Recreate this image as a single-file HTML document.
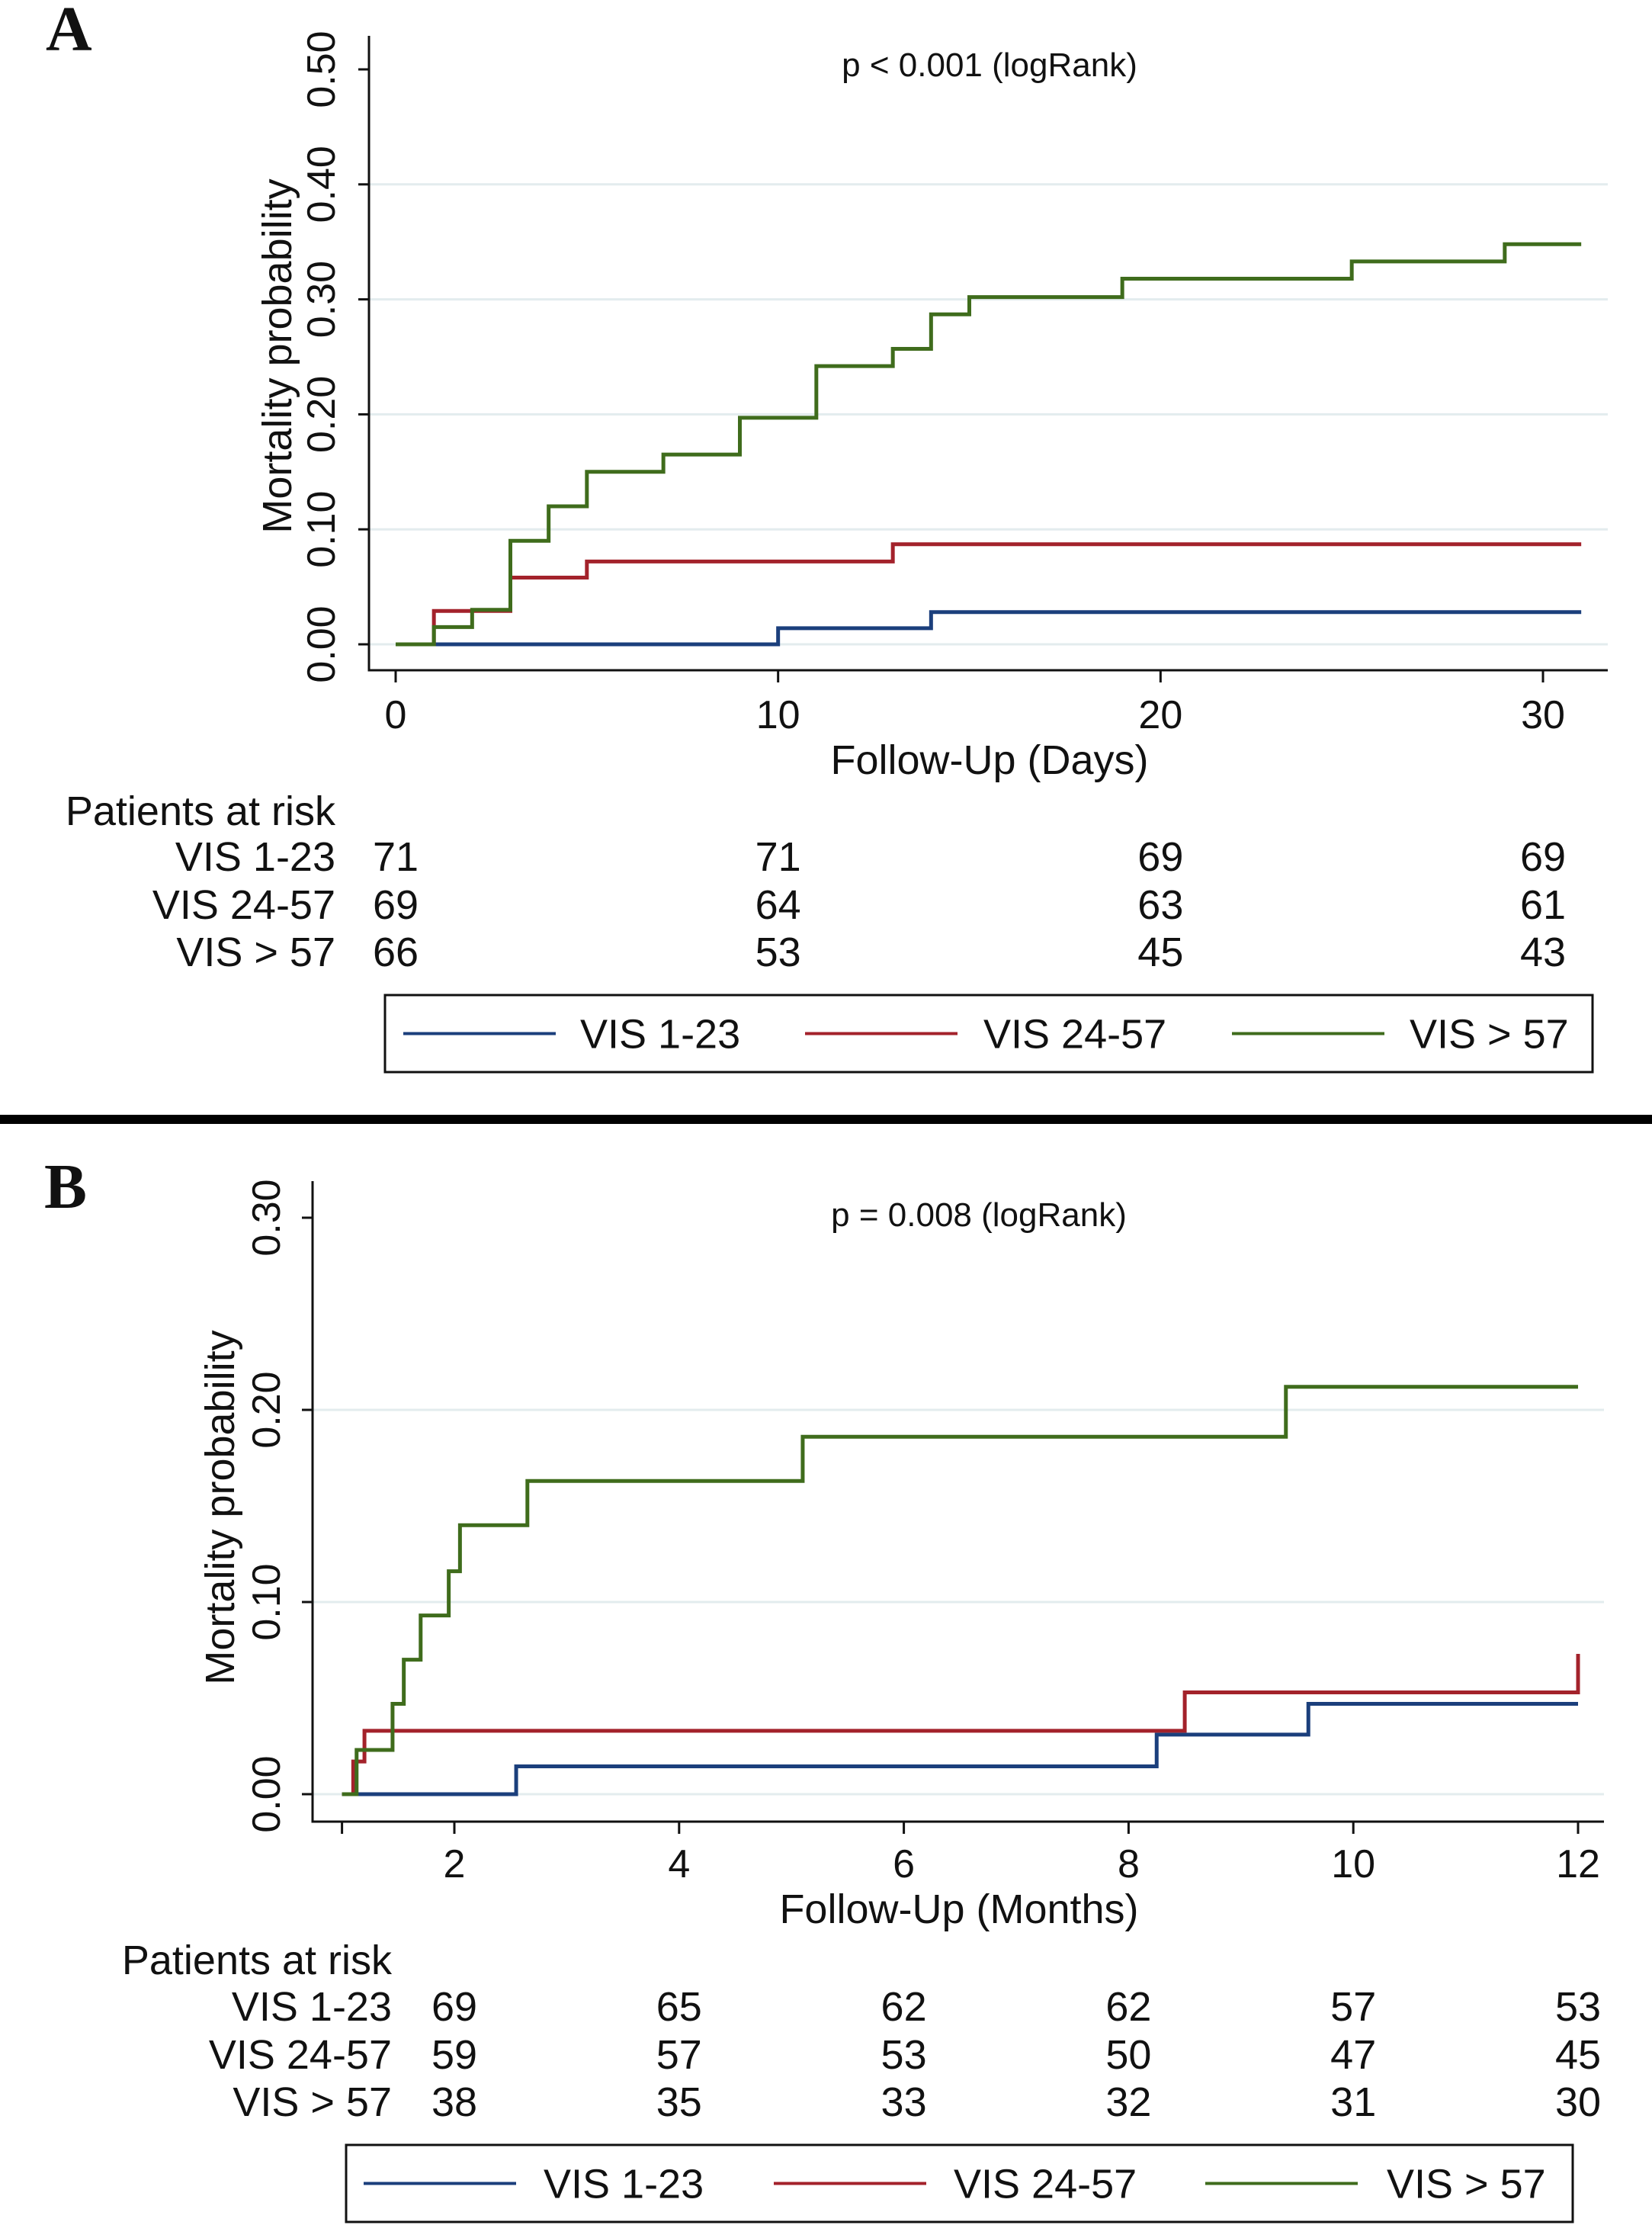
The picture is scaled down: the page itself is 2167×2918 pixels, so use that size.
<!DOCTYPE html>
<html><head><meta charset="utf-8"><style>
html,body{margin:0;padding:0;background:#fff}
svg{display:block}
text{font-family:"Liberation Sans",sans-serif;fill:#111}
</style></head><body>
<svg id="c" width="2167" height="2918" viewBox="0 0 2167 2918" xmlns="http://www.w3.org/2000/svg">
<rect x="0" y="0" width="2167" height="2918" fill="#fff"/>
<rect x="0" y="1462" width="2167" height="12" fill="#000"/>
</svg>
<script>
// Panel A data
const aDaysBlue=[0,10,14,31], aValBlue=[0,0.014,0.028,0.028];
const aDaysRed=[0,1,3,5,13,31], aValRed=[0,0.029,0.058,0.072,0.087,0.087];
const aDaysGreen=[0,1,2,3,4,5,7,9,11,13,14,15,19,25,29,31];
const aValGreen=[0,0.015,0.03,0.09,0.12,0.15,0.165,0.197,0.242,0.257,0.287,0.302,0.318,0.333,0.348,0.348];
const aXTicks=[0,10,20,30];
const aYTicks=[0,0.1,0.2,0.3,0.4,0.5];
const aRiskBlue=[71,71,69,69], aRiskRed=[69,64,63,61], aRiskGreen=[66,53,45,43];
// Panel B data
const bMonBlue=[1,2.55,8.25,9.6,12], bValBlue=[0,0.0145,0.031,0.047,0.047];
const bMonRed=[1,1.1,1.2,8.5,12,12], bValRed=[0,0.017,0.033,0.053,0.053,0.073];
const bMonGreen=[1,1.13,1.45,1.55,1.7,1.95,2.05,2.65,5.1,9.4,12];
const bValGreen=[0,0.023,0.047,0.07,0.093,0.116,0.14,0.163,0.186,0.212,0.212];
const bXTicks=[1,2,4,6,8,10,12];
const bXLabels=[2,4,6,8,10,12];
const bYTicks=[0,0.1,0.2,0.3];
const bRisk=[[69,65,62,62,57,53],[59,57,53,50,47,45],[38,35,33,32,31,30]];

const NS="http://www.w3.org/2000/svg";
const svg=document.getElementById('c');
function el(tag,attrs,parent,text){const e=document.createElementNS(NS,tag);for(const k in attrs)e.setAttribute(k,attrs[k]);if(text!==undefined)e.textContent=text;(parent||svg).appendChild(e);return e;}
const COL={blue:"#1b3f7c",red:"#a3222b",green:"#3f6c1c"};

function panel(P){
  const g=el('g',{});
  
  
  const X=v=>P.x0+(v-P.xa)*(P.x1-P.x0)/(P.xb-P.xa);
  const Y=v=>P.y0+(v-0)*(P.y1-P.y0)/(P.ymax);
  const top=P.yTicks[P.yTicks.length-1];
  P.yTicks.forEach(t=>{
    if(t<top){const l=el('line',{x1:P.axX,x2:P.right,y1:Y(t),y2:Y(t),stroke:"#e3ecee","stroke-width":3},g);
      }
  });
  P.yTicks.forEach(t=>{
    el('line',{x1:P.axX-14,x2:P.axX,y1:Y(t),y2:Y(t),stroke:"#111","stroke-width":3},g);
    const tx=el('text',{x:0,y:0,transform:`translate(${P.ylabX},${Y(t)}) rotate(-90)`,"text-anchor":"middle","font-size":52},g,t.toFixed(2));
    
  });
  const ax=el('path',{d:`M${P.axX},${P.axTop}V${P.axBot}H${P.right}`,fill:"none",stroke:"#111","stroke-width":3},g);
  
  P.xTicks.forEach(t=>{el('line',{x1:X(t),x2:X(t),y1:P.axBot,y2:P.axBot+16,stroke:"#111","stroke-width":3},g);});
  P.xLabels.forEach(t=>{
    const tx=el('text',{x:X(t),y:P.xlabY,"text-anchor":"middle","font-size":52},g,String(t));
    
  });
  const yt=el('text',{transform:`translate(${P.ytitleX},${P.ytitleY}) rotate(-90)`,"text-anchor":"middle","font-size":54},g,"Mortality probability");
  
  const xt=el('text',{x:P.xtitleX,y:P.xtitleY,"text-anchor":"middle","font-size":54},g,P.xtitle);
  
  const pt=el('text',{x:P.pX,y:P.pY,"text-anchor":"middle","font-size":44},g,P.ptext);
  
  const lt=el('text',{x:P.letterX,y:P.letterY,"font-size":84,"font-weight":"bold",style:"font-family:'Liberation Serif',serif"},g,P.letter);
  
  P.series.forEach(s=>{
    let d=`M${X(s.t[0])},${Y(s.v[0])}`;
    for(let i=1;i<s.t.length;i++){d+=`H${X(s.t[i])}V${Y(s.v[i])}`;}
    const p=el('path',{d:d,fill:"none",stroke:COL[s.c],"stroke-width":5},g);
    
  });
  const rh=el('text',{x:P.riskRight,y:P.riskHeadY,"text-anchor":"end","font-size":54},g,"Patients at risk");
  
  const names=["VIS 1-23","VIS 24-57","VIS > 57"];
  P.risk.forEach((row,i)=>{
    const nm=el('text',{x:P.riskRight,y:P.riskY[i],"text-anchor":"end","font-size":54},g,names[i]);
    
    row.forEach((n,j)=>{
      const tx=el('text',{x:X(P.riskX[j]),y:P.riskY[i],"text-anchor":"middle","font-size":54},g,String(n));
      
    });
  });
  const L=P.leg;
  const lb=el('rect',{x:L.x,y:L.y,width:L.w,height:L.h,fill:"#fff",stroke:"#111","stroke-width":3},g);
  
  ["blue","red","green"].forEach((c,i)=>{
    el('line',{x1:L.lx[i],x2:L.lx[i]+200,y1:L.y+L.h/2,y2:L.y+L.h/2,stroke:COL[c],"stroke-width":4},g);
    const tx=el('text',{x:L.tx[i],y:L.y+L.h/2+19,"font-size":54},g,names[i]);
    
  });
}

panel({name:'panel-a',letter:'A',letterX:60,letterY:66,
  xa:0,xb:30,x0:519,x1:2024,y0:845,y1:91,ymax:0.5,
  axX:484,axTop:47,axBot:879,right:2109,
  yTicks:aYTicks,xTicks:aXTicks,xLabels:aXTicks,ylabX:439,xlabY:955,
  ytitleX:382,ytitleY:467,xtitle:"Follow-Up (Days)",xtitleX:1298,xtitleY:1015,
  ptext:"p < 0.001 (logRank)",pX:1298,pY:100,
  series:[{c:'blue',t:aDaysBlue,v:aValBlue},{c:'red',t:aDaysRed,v:aValRed},{c:'green',t:aDaysGreen,v:aValGreen}],
  risk:[aRiskBlue,aRiskRed,aRiskGreen],riskX:aXTicks,riskRight:440,riskHeadY:1082,riskY:[1142,1205,1267],
  leg:{x:505,y:1305,w:1584,h:101,lx:[529,1056,1616],tx:[761,1290,1849]}
});
panel({name:'panel-b',letter:'B',letterX:58,letterY:1584,
  xa:2,xb:12,x0:596,x1:2070,y0:2353,y1:1597,ymax:0.3,
  axX:410,axTop:1549,axBot:2389,right:2104,
  yTicks:bYTicks,xTicks:bXTicks,xLabels:bXLabels,ylabX:367,xlabY:2462,
  ytitleX:307,ytitleY:1977,xtitle:"Follow-Up (Months)",xtitleX:1258,xtitleY:2522,
  ptext:"p = 0.008 (logRank)",pX:1284,pY:1608,
  series:[{c:'blue',t:bMonBlue,v:bValBlue},{c:'red',t:bMonRed,v:bValRed},{c:'green',t:bMonGreen,v:bValGreen}],
  risk:bRisk,riskX:bXLabels,riskRight:514,riskHeadY:2589,riskY:[2650,2713,2775],
  leg:{x:454,y:2813,w:1609,h:101,lx:[477,1015,1581],tx:[713,1251,1819]}
});
</script>
</body></html>
